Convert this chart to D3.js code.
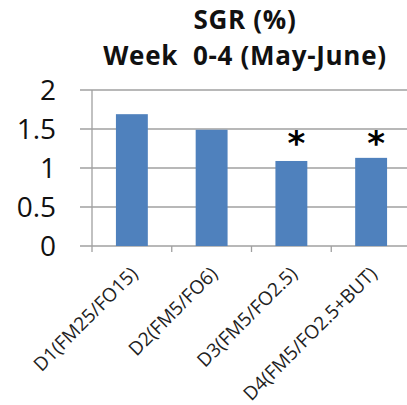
<!DOCTYPE html>
<html><head><meta charset="utf-8">
<script src="https://cdn.jsdelivr.net/npm/d3@7"></script>
<style>body{margin:0;background:#fff}svg{display:block}text{white-space:pre}</style>
</head><body>
<svg id="c" width="407" height="405"></svg>
<script>
const categories = ["D1(FM25/FO15)", "D2(FM5/FO6)", "D3(FM5/FO2.5)", "D4(FM5/FO2.5+BUT)"];
const values = [1.69, 1.49, 1.09, 1.13];
const significant = [false, false, true, true];
const yTicks = [0, 0.5, 1, 1.5, 2];
const titleLines = ["SGR (%)", "Week  0-4 (May-June)"];

const svg = d3.select("#c");
const font = "'Open Sans', sans-serif";
const x = d3.scaleBand().domain(categories).range([92, 411]).paddingInner(0.6).paddingOuter(0.3);
const y = d3.scaleLinear().domain([0, 2]).range([246, 90]);

// gridlines
svg.append("g").selectAll("line").data(yTicks).join("line")
  .attr("x1", 80).attr("x2", 411).attr("y1", d => y(d)).attr("y2", d => y(d))
  .attr("stroke", "#a0a0a0").attr("stroke-width", 1.3);

// y axis line
svg.append("line").attr("x1", 92).attr("x2", 92).attr("y1", y(2)).attr("y2", y(0))
  .attr("stroke", "#a0a0a0").attr("stroke-width", 1.3);

// category ticks
svg.append("g").selectAll("line").data(categories).join("line")
  .attr("x1", d => x(d) - x.step() * 0.3).attr("x2", d => x(d) - x.step() * 0.3)
  .attr("y1", y(0)).attr("y2", y(0) + 6)
  .attr("stroke", "#a0a0a0").attr("stroke-width", 1.3);

// bars
svg.append("g").selectAll("rect").data(values).join("rect")
  .attr("x", (d, i) => x(categories[i])).attr("width", x.bandwidth())
  .attr("y", d => y(d)).attr("height", d => y(0) - y(d))
  .attr("fill", "#4f81bd");

// asterisks
svg.append("g").selectAll("text").data(values.map((v, i) => ({v, i})).filter(d => significant[d.i])).join("text")
  .attr("x", d => x(categories[d.i]) + x.bandwidth() / 2 + 5)
  .attr("y", 155)
  .attr("text-anchor", "middle")
  .attr("font-family", "'DejaVu Sans', sans-serif").attr("font-weight", "bold").attr("font-size", 34)
  .attr("fill", "#000").text("*");

// y tick labels
svg.append("g").selectAll("text").data(yTicks).join("text")
  .attr("x", 56).attr("y", d => y(d)).attr("dy", "0.36em")
  .attr("text-anchor", "end").attr("font-family", font).attr("font-size", 28)
  .attr("fill", "#111").text(d => d);

// x labels
svg.append("g").selectAll("text").data(categories).join("text")
  .attr("transform", d => `translate(${x(d) + x.bandwidth() / 2 + 7},${275}) rotate(-45)`)
  .attr("text-anchor", "end").attr("font-family", font).attr("font-size", 19)
  .attr("fill", "#222").text(d => d);

// title
svg.append("g").selectAll("text").data(titleLines).join("text")
  .attr("x", 245).attr("y", (d, i) => 29 + i * 36)
  .attr("text-anchor", "middle").attr("font-family", font).attr("font-weight", "bold")
  .attr("font-size", 26).attr("letter-spacing", 0.7).attr("fill", "#111").text(d => d);
</script>
</body></html>
